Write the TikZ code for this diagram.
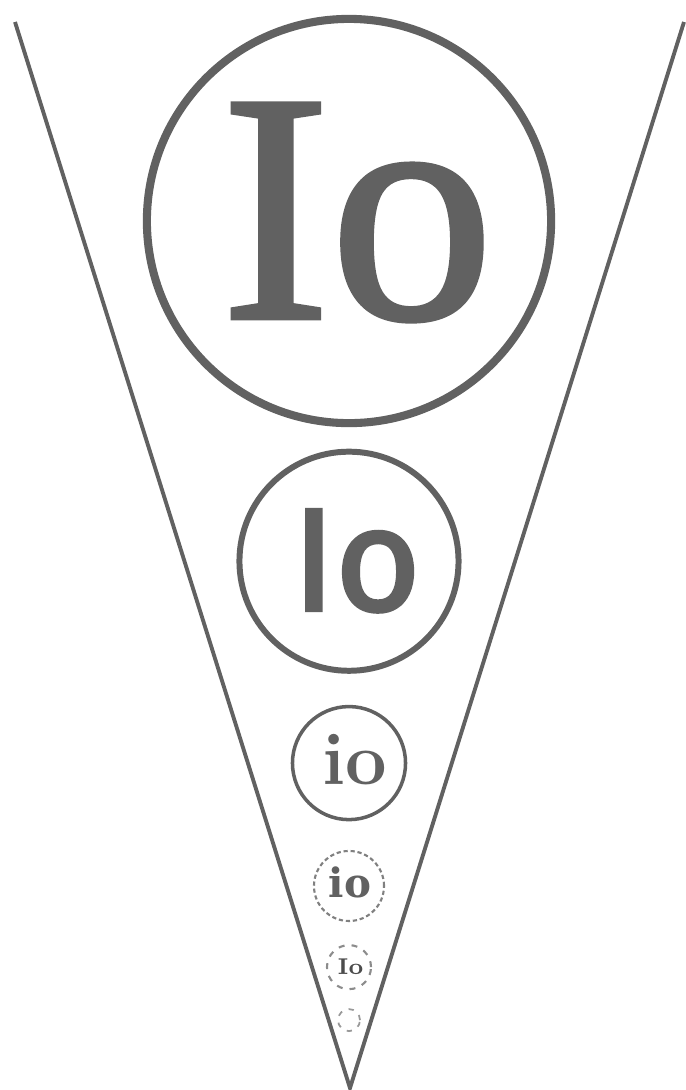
\documentclass[tikz,border=0pt]{standalone}
\usepackage{fontspec}
\newfontfamily\bookserif[FakeBold=1.5]{Liberation Serif}
\newfontfamily\geosans[FakeBold=2.5]{Fira Sans}
\newfontfamily\slabserif{DejaVu Serif}
\usepackage{xcolor}
\usepackage{tikz}
\usetikzlibrary{positioning}
\definecolor{inkgray}{gray}{0.38}

\begin{document}
\begin{tikzpicture}[
  x=0.01cm,y=-0.01cm,
  ring/.style={draw=inkgray,circle,inner sep=0pt},
  lbl/.style={text=inkgray,inner sep=0pt,anchor=base},
  side/.style={draw=inkgray,line width=1.1pt}
]
\useasboundingbox (0,0) rectangle (686,1090);
% the funnel
\coordinate (topL) at (15,22);
\coordinate (topR) at (684,22);
\coordinate (apex) at (350,1088);
\draw[side] (topL) -- (apex) -- (topR);
% rings, shrinking downwards
\node[ring,line width=2.3pt,minimum size=4.04cm] (ring1) at (349,221) {};
\node[ring,line width=1.7pt,minimum size=2.19cm,below=0.215cm of ring1] (ring2) {};
\node[ring,line width=1pt,minimum size=1.13cm,below=0.31cm of ring2] (ring3) {};
\node[ring,draw=black!50,line width=0.6pt,dash pattern=on 1.2pt off 0.8pt,minimum size=0.7cm,below=0.285cm of ring3] (ring4) {};
\node[ring,draw=black!45,line width=0.6pt,dash pattern=on 1.7pt off 2pt,minimum size=0.44cm,below=0.22cm of ring4] (ring5) {};
\node[ring,draw=black!40,line width=0.5pt,dash pattern=on 1.5pt off 2pt,minimum size=0.22cm,below=0.18cm of ring5] (ring6) {};
% labels
\node[lbl] (io1) at ([shift={(8.5,97)}]ring1.center) {\bookserif\fontsize{93}{93}\selectfont Io};
\node[lbl] (io2) at ([shift={(7.5,49)}]ring2.center) {\geosans\fontsize{41.5}{41.5}\selectfont Io};
\node[lbl] (io3) at ([shift={(5.5,21)}]ring3.center) {\bfseries\fontsize{21}{21}\selectfont io};
\node[lbl] (io4) at ([shift={(1,12)}]ring4.center) {\slabserif\bfseries\fontsize{11.5}{11.5}\selectfont io};
\node[lbl,text=black!70] (io5) at ([shift={(1.5,7)}]ring5.center) {\bfseries\fontsize{6.5}{6.5}\selectfont Io};
\end{tikzpicture}
\end{document}
